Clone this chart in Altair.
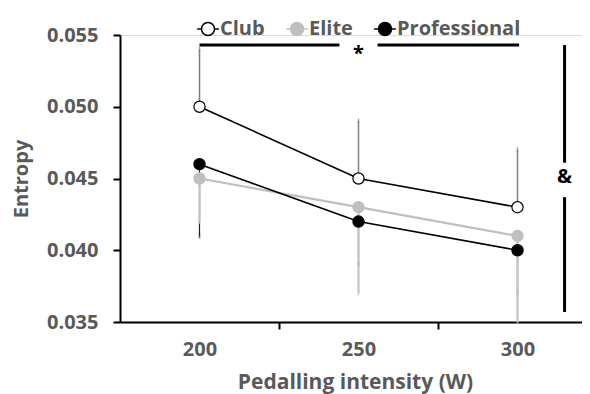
import altair as alt
import pandas as pd

# ---- data ----
groups = ["Club", "Elite", "Professional"]
intensity = [200, 250, 300]
club_mean = [0.050, 0.045, 0.043]
club_upper = [0.054, 0.049, 0.047]
elite_mean = [0.045, 0.043, 0.041]
elite_lower = [0.042, 0.037, 0.035]
pro_mean = [0.046, 0.042, 0.040]
pro_lower = [0.041, 0.039, 0.037]

# significance annotations (data units)
star_bar_x = [200, 256]
star_bar_x2 = [244, 300.5]
star_bar_y = 0.0543
star_pos = (250, 0.0537)
amp_x = 314.8
amp_seg_y = [0.0543, 0.0437]
amp_seg_y2 = [0.0461, 0.0357]
amp_label_y = 0.0451

FONT = "Open Sans"
GREY_TXT = "#595959"

rows = []
for g, means, bounds in [("Club", club_mean, club_upper),
                         ("Elite", elite_mean, elite_lower),
                         ("Professional", pro_mean, pro_lower)]:
    for x, m, b in zip(intensity, means, bounds):
        rows.append({"group": g, "x": x, "mean": m, "bound": b})
df = pd.DataFrame(rows)

W, H = 462, 287
x_scale = alt.Scale(domain=[175, 175 + W / 159 * 50], nice=False, zero=False)
y_scale = alt.Scale(domain=[0.035, 0.055], nice=False, zero=False)

fill_scale = alt.Scale(domain=groups, range=["white", "#bfbfbf", "black"])
stroke_scale = alt.Scale(domain=groups, range=["black", "#bfbfbf", "black"])

# per-group styles: (line colour, line width, error colour, error width)
styles = {
    "Professional": ("black", 1.6, "#222222", 1.2),
    "Club": ("black", 1.6, "#7f7f7f", 1.5),
    "Elite": ("#bfbfbf", 2.2, "#c4c4c4", 2.2),
}

x_enc = alt.X("x:Q", scale=x_scale, title="Pedalling intensity (W)",
              axis=alt.Axis(values=[200, 225, 250, 275, 300],
                            labelExpr="datum.value % 50 == 0 ? datum.label : ''",
                            tickOpacity=alt.expr("datum.value % 50 == 0 ? 0 : 1"),
                            tickSize=7, tickWidth=2, tickColor="black",
                            domainColor="black", domainWidth=2,
                            labelFont=FONT, labelFontSize=20, labelFontWeight="bold",
                            labelColor=GREY_TXT, labelPadding=10,
                            titleFont=FONT, titleFontSize=21, titleFontWeight="bold",
                            titleColor=GREY_TXT, titleX=235, titleY=60,
                            titleBaseline="middle", titleAlign="center",
                            grid=False))
y_enc = alt.Y("mean:Q", scale=y_scale, title="Entropy",
              axis=alt.Axis(values=[0.035, 0.040, 0.045, 0.050, 0.055], format=".3f",
                            tickSize=7, tickWidth=2, tickColor="black",
                            domainColor="black", domainWidth=2,
                            labelFont=FONT, labelFontSize=20, labelFontWeight="bold",
                            labelColor=GREY_TXT, labelPadding=15,
                            titleFont=FONT, titleFontSize=20, titleFontWeight="bold",
                            titleColor=GREY_TXT, titleX=-99, titleY=143.5,
                            titleAngle=270, titleBaseline="middle", titleAlign="center",
                            grid=False))

base = alt.Chart(df)

layers = []
# error bars (Professional below, Elite on top)
for i, g in enumerate(["Professional", "Club", "Elite"]):
    lc, lw, ec, ew = styles[g]
    sub = base.transform_filter(alt.datum.group == g)
    if i == 0:
        rule = sub.mark_rule(color=ec, strokeWidth=ew).encode(x=x_enc, y=y_enc, y2="bound:Q")
    else:
        rule = sub.mark_rule(color=ec, strokeWidth=ew).encode(x="x:Q", y="mean:Q", y2="bound:Q")
    cap = sub.mark_tick(size=5, thickness=1.5, color=ec).encode(x="x:Q", y="bound:Q")
    layers += [rule, cap]
# lines
for g in ["Elite", "Professional", "Club"]:
    lc, lw, ec, ew = styles[g]
    layers.append(base.transform_filter(alt.datum.group == g)
                  .mark_line(color=lc, strokeWidth=lw)
                  .encode(x="x:Q", y="mean:Q"))

legend = alt.Legend(title=None, orient="none", direction="horizontal",
                    legendX=76, legendY=-18,
                    labelFont=FONT, labelFontSize=20, labelFontWeight="bold",
                    labelColor=GREY_TXT, labelOffset=0, columnPadding=18,
                    symbolType="M-1,0H-0.6M0.6,0H1M-0.6,0A0.6,0.6 0 1,1 0.6,0A0.6,0.6 0 1,1 -0.6,0Z",
                    symbolSize=470, symbolStrokeWidth=1.5)
points = base.mark_point(filled=False, size=125, strokeWidth=1.2, opacity=1, shape="circle").encode(
    x="x:Q", y="mean:Q",
    fill=alt.Fill("group:N", scale=fill_scale, legend=legend, sort=groups),
    stroke=alt.Stroke("group:N", scale=stroke_scale, legend=legend, sort=groups),
)
layers.append(points)

ann_h = pd.DataFrame({"x": star_bar_x, "x2": star_bar_x2, "y": [star_bar_y] * 2})
layers.append(alt.Chart(ann_h).mark_rule(color="black", strokeWidth=3).encode(
    x="x:Q", x2="x2:Q", y="y:Q"))
ann_v = pd.DataFrame({"x": [amp_x] * 2, "y": amp_seg_y, "y2": amp_seg_y2})
layers.append(alt.Chart(ann_v).mark_rule(color="black", strokeWidth=3).encode(
    x="x:Q", y="y:Q", y2="y2:Q"))
ann_t = pd.DataFrame({"x": [star_pos[0], amp_x], "y": [star_pos[1], amp_label_y],
                      "t": ["*", "&"]})
layers.append(alt.Chart(ann_t).mark_text(font=FONT, fontSize=20, fontWeight="bold",
                                         color="black", baseline="middle").encode(
    x="x:Q", y="y:Q", text="t:N"))

chart = alt.layer(*layers).properties(
    width=W, height=H,
    autosize=alt.AutoSizeParams(type="none"),
    padding={"left": 112, "top": 27, "right": 0, "bottom": 72},
).configure_view(stroke=None).configure(background="white")

chart.save("out.html", embed_options={"renderer": "svg", "actions": False})
